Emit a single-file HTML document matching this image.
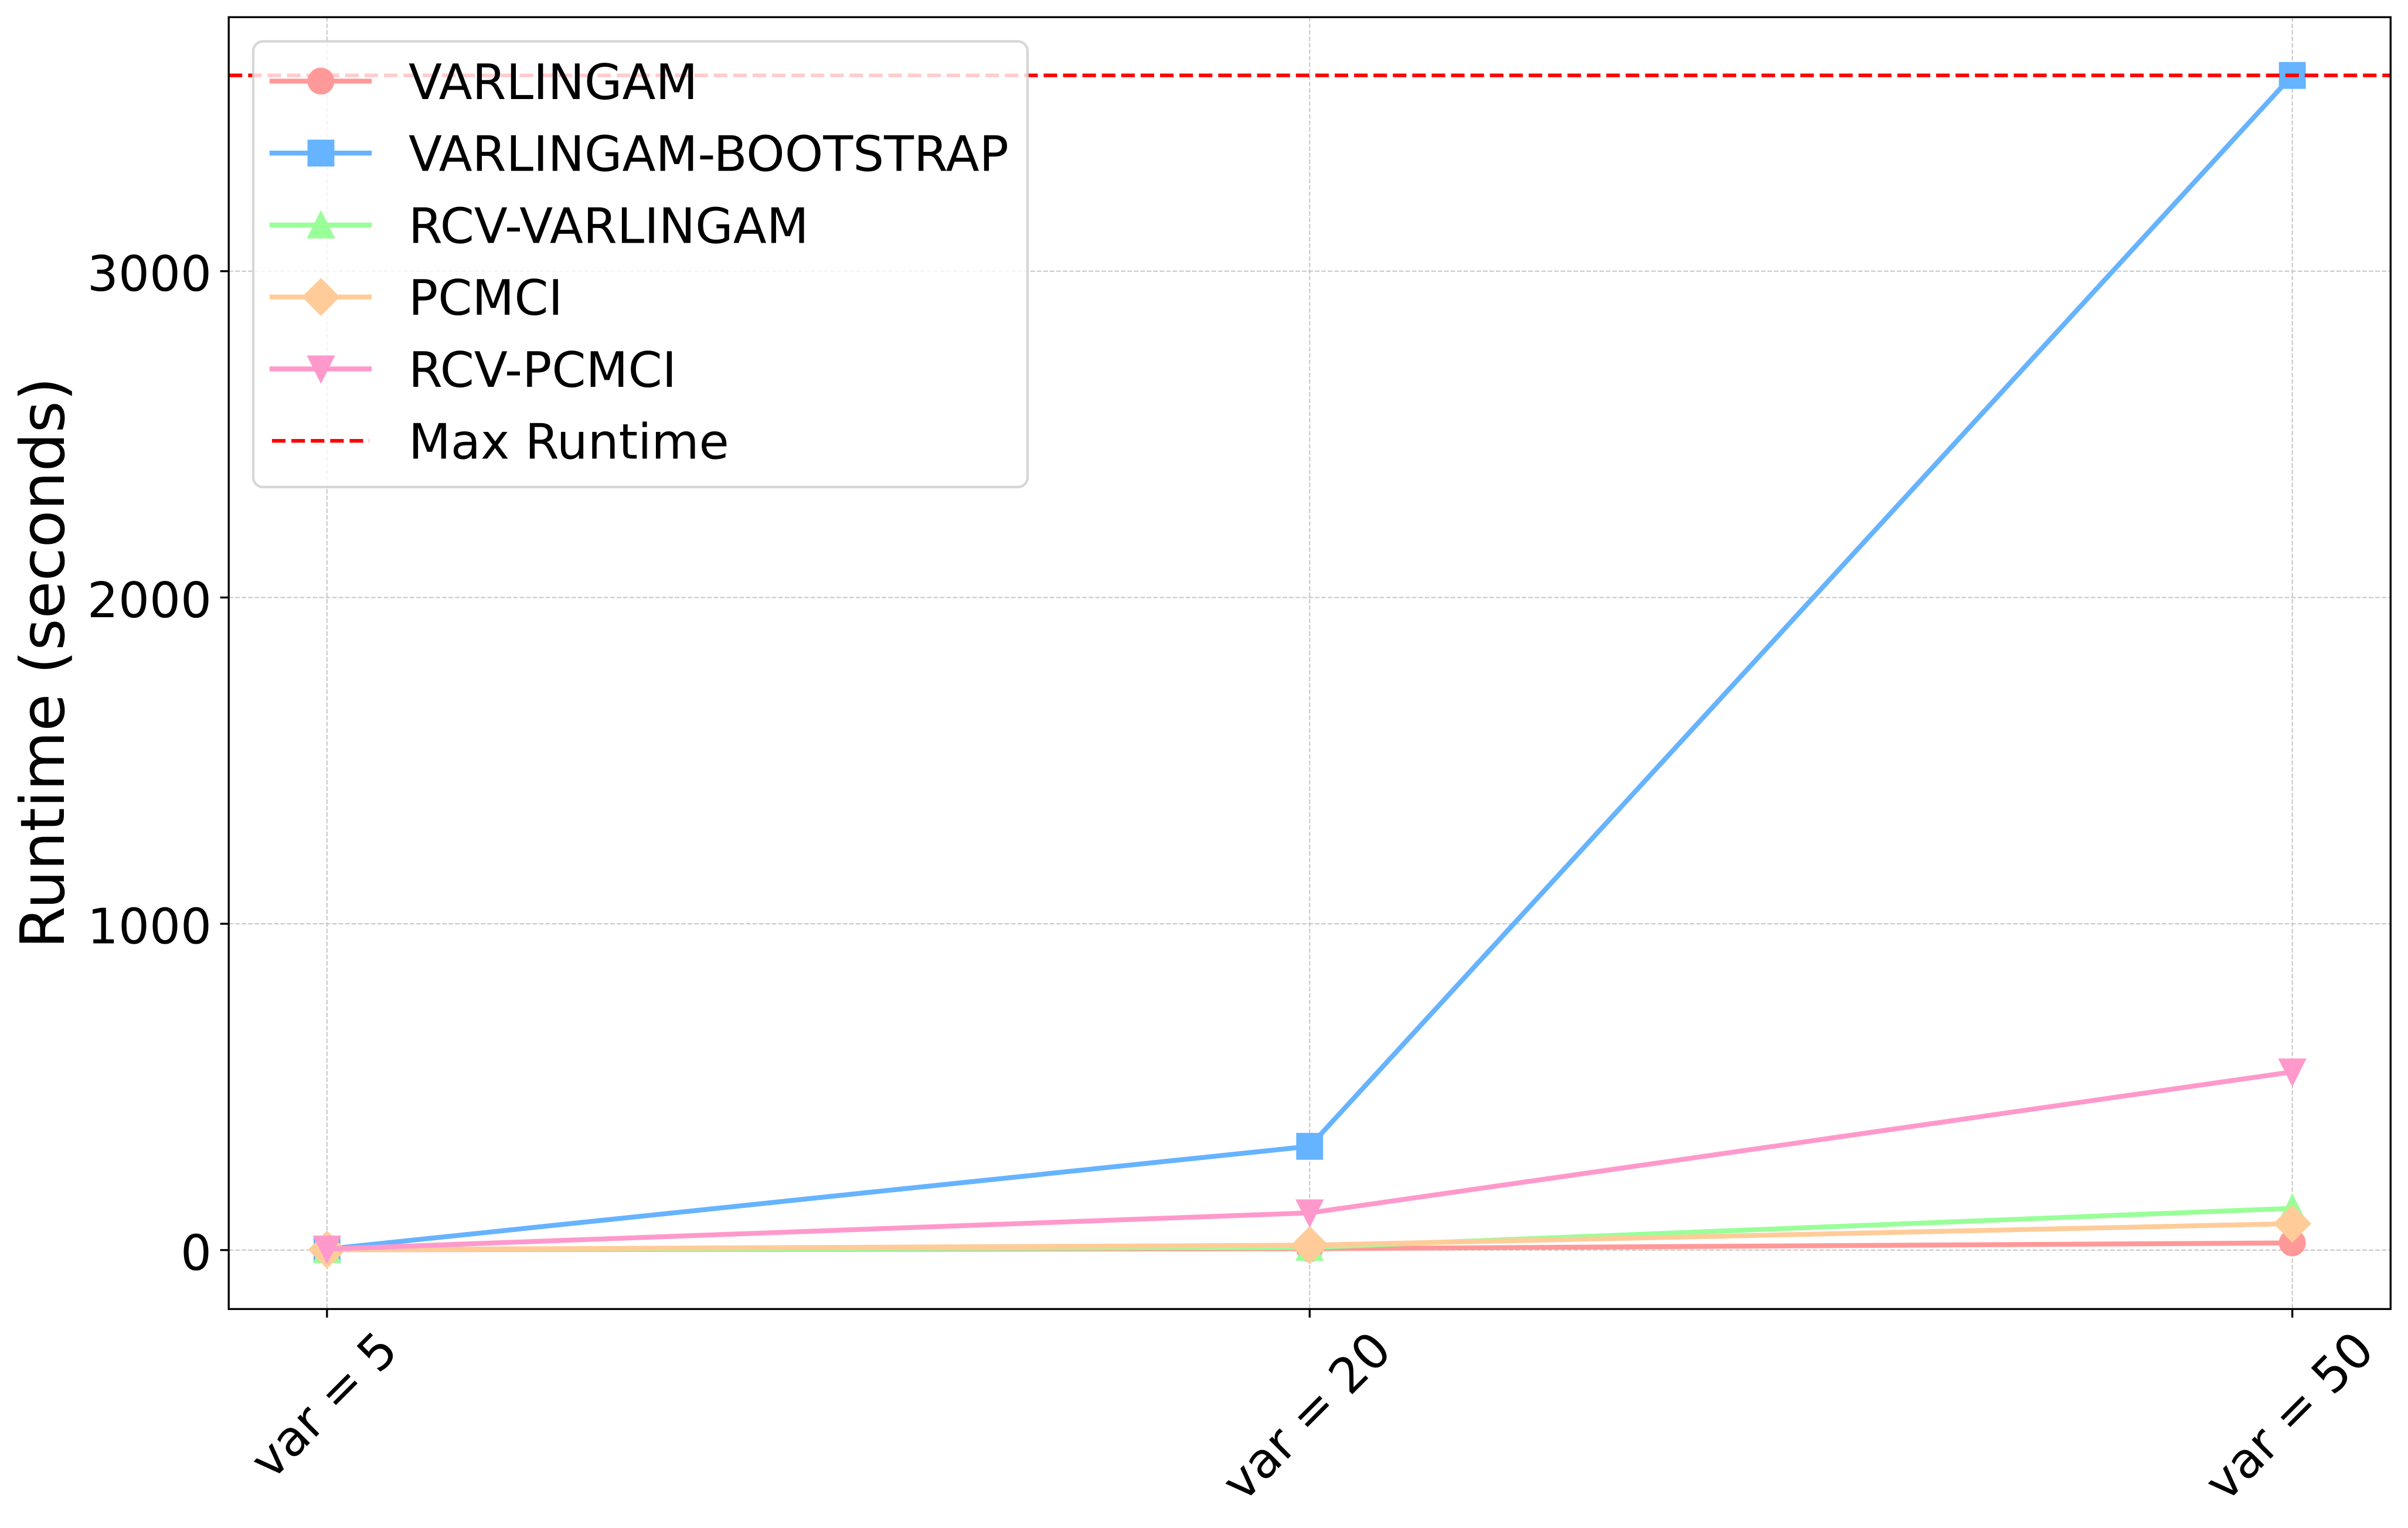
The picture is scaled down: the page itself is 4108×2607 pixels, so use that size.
<!DOCTYPE html>
<html lang="en">
<head>
<meta charset="utf-8">
<title>Runtime chart</title>
<style>
html,body{margin:0;padding:0;background:#fff;}
svg{display:block;}
text{font-family:"DejaVu Sans","Liberation Sans",sans-serif;fill:#000;text-rendering:geometricPrecision;}
</style>
</head>
<body>
<svg id="chart" xmlns="http://www.w3.org/2000/svg" width="4108" height="2607" viewBox="0 0 4108 2607">
<rect x="0" y="0" width="4108" height="2607" fill="#ffffff"/>
<g id="grid"></g>
<g id="series"></g>
<g id="axes"></g>
<text transform="translate(109 1131) rotate(-90)" text-anchor="middle" font-size="104.17">Runtime (seconds)</text>
<g id="legend"></g>
</svg>
<script>
var categories = ["var = 5", "var = 20", "var = 50"];
var yTicks = [0, 1000, 2000, 3000];
var maxRuntime = 3600;
var seriesNames = ["VARLINGAM", "VARLINGAM-BOOTSTRAP", "RCV-VARLINGAM", "PCMCI", "RCV-PCMCI"];
var varlingamValues = [1, 4, 22];
var bootstrapValues = [3, 318, 3600];
var rcvVarlingamValues = [1, 8, 128];
var pcmciValues = [1, 15, 81];
var rcvPcmciValues = [3, 114, 546];
var maxRuntimeLabel = "Max Runtime";

var allValues = [varlingamValues, bootstrapValues, rcvVarlingamValues, pcmciValues, rcvPcmciValues];
var colors = ["#ff9999", "#66b3ff", "#99ff99", "#ffcc99", "#ff99cc"];
var markerKinds = ["circle", "square", "up", "diamond", "down"];

var NS = "http://www.w3.org/2000/svg";
var plot = {left: 390.2, right: 4078.3, top: 29.3, bottom: 2233.4};
var TICK = 14.58, SPINE = 3.33, LW = 8.33, MS = 41.67, MEW = 4.17;

function xScale(i) { return plot.left + (i + 0.1) * (plot.right - plot.left) / 2.2; }
function yScale(v) { return 2132.8 - v * 0.5567; }

function mk(parent, tag, attrs) {
  var el = document.createElementNS(NS, tag);
  for (var k in attrs) { el.setAttribute(k, attrs[k]); }
  parent.appendChild(el);
  return el;
}

function marker(parent, kind, x, y, color) {
  var h = MS / 2, el;
  var style = {fill: color, stroke: color, "stroke-width": MEW, "stroke-linejoin": "miter"};
  if (kind === "circle") {
    style.cx = x; style.cy = y; style.r = h;
    el = mk(parent, "circle", style);
  } else {
    var d = h * Math.SQRT2, pts;
    if (kind === "square") pts = [[x-h,y-h],[x+h,y-h],[x+h,y+h],[x-h,y+h]];
    if (kind === "up") pts = [[x,y-h],[x+h,y+h],[x-h,y+h]];
    if (kind === "down") pts = [[x,y+h],[x+h,y-h],[x-h,y-h]];
    if (kind === "diamond") pts = [[x,y-d],[x+d,y],[x,y+d],[x-d,y]];
    style.points = pts.map(function (p) { return p.join(","); }).join(" ");
    el = mk(parent, "polygon", style);
  }
  return el;
}

var gridG = document.getElementById("grid");
var seriesG = document.getElementById("series");
var axesG = document.getElementById("axes");
var legendG = document.getElementById("legend");

categories.forEach(function (c, i) {
  var x = xScale(i);
  var g = mk(gridG, "line", {x1: x, x2: x, y1: plot.top, y2: plot.bottom, stroke: "#c8c8c8", "stroke-width": 2.08, "stroke-dasharray": "7.7 3.33"});
  
  
});
yTicks.forEach(function (v) {
  var y = yScale(v);
  var g = mk(gridG, "line", {x1: plot.left, x2: plot.right, y1: y, y2: y, stroke: "#c8c8c8", "stroke-width": 2.08, "stroke-dasharray": "7.7 3.33"});
  
  
});

allValues.forEach(function (vals, s) {
  var g = mk(seriesG, "g", {});
  
  
  var pts = vals.map(function (v, i) { return xScale(i) + "," + yScale(v); }).join(" ");
  mk(g, "polyline", {points: pts, fill: "none", stroke: colors[s], "stroke-width": LW, "stroke-linejoin": "round", "stroke-linecap": "square"});
  vals.forEach(function (v, i) {
    var m = marker(g, markerKinds[s], xScale(i), yScale(v), colors[s]);
    
    
  });
});

var maxLine = mk(seriesG, "line", {x1: plot.left, x2: plot.right, y1: yScale(maxRuntime), y2: yScale(maxRuntime), stroke: "#ff0000", "stroke-width": 6.25, "stroke-dasharray": "23.1 10"});



var spine = mk(axesG, "rect", {x: plot.left, y: plot.top, width: plot.right - plot.left, height: plot.bottom - plot.top, fill: "none", stroke: "#000", "stroke-width": SPINE});



yTicks.forEach(function (v) {
  var y = yScale(v);
  var t = mk(axesG, "line", {x1: plot.left - TICK, x2: plot.left, y1: y, y2: y, stroke: "#000", "stroke-width": SPINE});
  
  
  var l = mk(axesG, "text", {x: 361, y: y + 33.5, "text-anchor": "end", "font-size": 83.33});
  
  
  l.textContent = String(v);
});

categories.forEach(function (c, i) {
  var x = xScale(i);
  var t = mk(axesG, "line", {x1: x, x2: x, y1: plot.bottom, y2: plot.bottom + TICK, stroke: "#000", "stroke-width": SPINE});
  
  
  var l = mk(axesG, "text", {"text-anchor": "middle", "font-size": 83.33});
  
  
  l.textContent = c;
  var w = l.getComputedTextLength();
  var by = 2308.1 + (w / 2) * Math.SQRT1_2;
  l.setAttribute("transform", "translate(" + (x + 15) + " " + by + ") rotate(-45)");
});

var box = mk(legendG, "rect", {x: 432, y: 70.6, width: 1321, height: 760.4, rx: 16.7, ry: 16.7, fill: "#ffffff", "fill-opacity": 0.8, stroke: "#cccccc", "stroke-opacity": 0.8, "stroke-width": 4.17});



function legendText(label, i) {
  var y = 169 + 122.7 * i;
  var t = mk(legendG, "text", {x: 697, y: y, "font-size": 83.33});
  
  
  t.textContent = label;
}

seriesNames.forEach(function (name, i) {
  var y = 138.4 + 122.75 * i;
  var g = mk(legendG, "g", {});
  
  
  mk(g, "line", {x1: 464, x2: 630, y1: y, y2: y, stroke: colors[i], "stroke-width": LW, "stroke-linecap": "square"});
  marker(g, markerKinds[i], 547.5, y, colors[i]);
  legendText(name, i);
});
var lY = 138.4 + 122.75 * 5;
var maxKey = mk(legendG, "line", {x1: 464, x2: 630, y1: lY, y2: lY, stroke: "#ff0000", "stroke-width": 6.25, "stroke-dasharray": "23.1 10"});


legendText(maxRuntimeLabel, 5);
</script>
</body>
</html>
